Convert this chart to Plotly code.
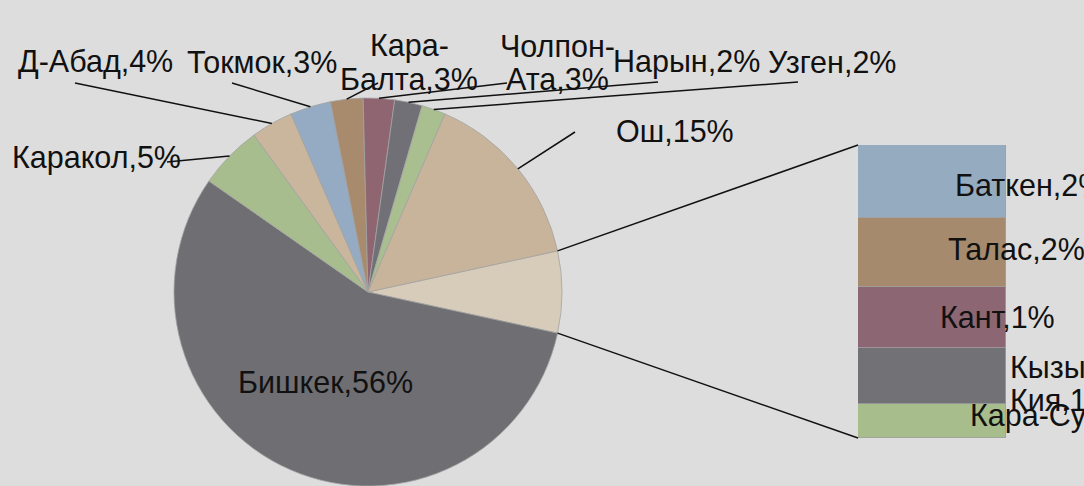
import math
import plotly.graph_objects as go

W, H = 1084, 486

# ---------------- data ----------------
pie_names = ["Бишкек", "Каракол", "Д-Абад", "Токмок", "Кара-Балта",
             "Чолпон-Ата", "Нарын", "Узген", "Ош"]
pie_values = [56.3, 5.3, 3.5, 3.4, 2.7, 2.6, 2.3, 2.0, 15.1]
pie_colors = ["#6f6e73", "#a7bd8e", "#c9b69d", "#94abc3", "#a88a6c",
              "#8e6571", "#717076", "#a9bf8f", "#c7b49b"]

bar_names = ["Баткен", "Талас", "Кант", "Кызыл-Кия", "Кара-Суу"]
bar_values = [1.7, 1.6, 1.4, 1.3, 0.8]
bar_colors = ["#94abc0", "#a68a6e", "#8c6672", "#717176", "#a8bd8c"]
other_color = "#d7ccb9"

# label lines (display wrapping as in the reference)
pie_label_lines = {
    "Кара-Балта": ["Кара-", "Балта,{p}%"],
    "Чолпон-Ата": ["Чолпон-", "Ата,{p}%"],
}
bar_label_lines = {"Кызыл-Кия": ["Кызыл-", "Кия,{p}%"]}

# ---------------- layout constants (pixels) ----------------
CX, CY, R = 368, 292, 194
BAR_X0, BAR_X1, BAR_Y0, BAR_Y1 = 858, 1006, 145, 438
FONT = "Liberation Sans, Arial, sans-serif"
FS = 30.5
LINE_GAP = 33
TXT = "#111111"

# label centre positions (px) and leader start points (px)
pie_label_pos = {
    "Бишкек": (325, 382), "Каракол": (96, 158), "Д-Абад": (95, 62),
    "Токмок": (262, 62), "Кара-Балта": (409, 62), "Чолпон-Ата": (557, 62),
    "Нарын": (686, 62), "Узген": (832, 62), "Ош": (675, 131),
}
leader_start = {
    "Каракол": (167, 162), "Д-Абад": (75, 83), "Токмок": (232, 83),
    "Кара-Балта": (378, 83), "Чолпон-Ата": (507, 83), "Нарын": (658, 82),
    "Узген": (798, 82), "Ош": (575, 132),
}
bar_label_pos = {  # left edge x, centre y
    "Баткен": (953, 185), "Талас": (946, 249), "Кант": (938, 317),
    "Кызыл-Кия": (1008, 383), "Кара-Суу": (968, 415),
}


def px(x, y):
    return x / W, 1 - y / H


other_total = sum(bar_values)
all_vals = [other_total] + pie_values
total = sum(all_vals)
rotation = 90 - other_total / total * 180

fig = go.Figure()
fig.add_trace(go.Pie(
    labels=["Другие"] + pie_names,
    values=all_vals,
    sort=False,
    direction="clockwise",
    rotation=rotation,
    marker=dict(colors=[other_color] + pie_colors,
                line=dict(color="#a3a3a3", width=0.8)),
    textinfo="none",
    hoverinfo="label+percent",
    showlegend=False,
    domain=dict(x=[(CX - R) / W, (CX + R) / W],
                y=[max(0, 1 - (CY + R) / H), 1 - (CY - R) / H]),
))

# stacked bar (bottom to top: reversed order)
for name, v, c in list(zip(bar_names, bar_values, bar_colors))[::-1]:
    fig.add_trace(go.Bar(
        x=[0], y=[v], name=name, width=1,
        marker=dict(color=c, line=dict(color="#a0a0a0", width=0.8)),
        showlegend=False, hoverinfo="name+y",
    ))

shapes = []
annotations = []


def add_text(lines, cx, cy, anchor="center"):
    n = len(lines)
    for k, t in enumerate(lines):
        yy = cy + (k - (n - 1) / 2) * LINE_GAP
        x, y = px(cx, yy)
        annotations.append(dict(
            x=x, y=y, xref="paper", yref="paper", text=t, showarrow=False,
            xanchor=anchor, yanchor="middle",
            font=dict(family=FONT, size=FS, color=TXT)))


# pie labels + leader lines
acc = rotation
for name, v in zip(["Другие"] + pie_names, all_vals):
    a0 = acc
    a1 = acc + v / total * 360
    acc = a1
    if name == "Другие":
        # connector lines to bar
        for ang, (bx, by) in ((a0, (BAR_X0, BAR_Y0)), (a1, (BAR_X0, BAR_Y1))):
            ex = CX + R * math.sin(math.radians(ang))
            ey = CY - R * math.cos(math.radians(ang))
            x0, y0 = px(ex, ey)
            x1, y1 = px(bx, by)
            shapes.append(dict(type="line", xref="paper", yref="paper",
                               x0=x0, y0=y0, x1=x1, y1=y1,
                               line=dict(color="#111111", width=1.5)))
        continue
    p = round(v / total * 100)
    lines = [s.format(p=p) for s in pie_label_lines.get(name, [name + ",{p}%"])]
    cx, cy = pie_label_pos[name]
    add_text(lines, cx, cy)
    if name in leader_start:
        mid = math.radians((a0 + a1) / 2)
        ex = CX + R * math.sin(mid)
        ey = CY - R * math.cos(mid)
        sx, sy = leader_start[name]
        x0, y0 = px(sx, sy)
        x1, y1 = px(ex, ey)
        shapes.append(dict(type="line", xref="paper", yref="paper",
                           x0=x0, y0=y0, x1=x1, y1=y1,
                           line=dict(color="#111111", width=1.5)))

# bar labels
for name, v in zip(bar_names, bar_values):
    p = round(v / total * 100)
    lines = [s.format(p=p) for s in bar_label_lines.get(name, [name + ",{p}%"])]
    lx, ly = bar_label_pos[name]
    add_text(lines, lx, ly, anchor="left")

fig.update_layout(
    width=W, height=H,
    margin=dict(l=0, r=0, t=0, b=0),
    paper_bgcolor="#dddddd", plot_bgcolor="#dddddd",
    barmode="stack", bargap=0,
    xaxis=dict(domain=[BAR_X0 / W, BAR_X1 / W], range=[-0.5, 0.5],
               visible=False, fixedrange=True),
    yaxis=dict(domain=[1 - BAR_Y1 / H, 1 - BAR_Y0 / H], range=[0, other_total],
               visible=False, fixedrange=True),
    shapes=shapes,
    annotations=annotations,
    font=dict(family=FONT),
)

fig.write_html("out.html", config={"displayModeBar": False},
               post_script="document.body.style.margin='0';")
